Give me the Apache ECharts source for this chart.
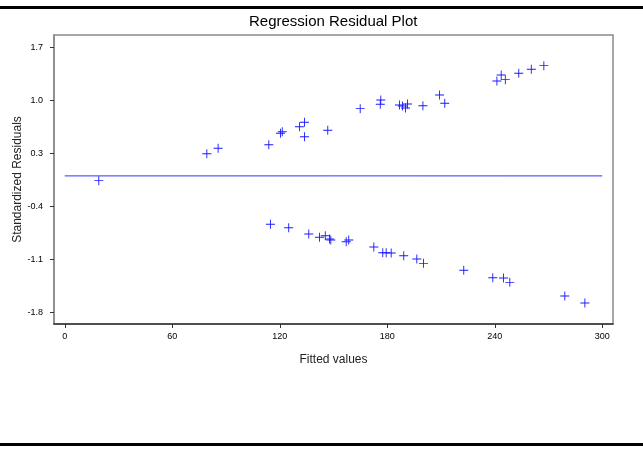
<!DOCTYPE html>
<html>
<head>
<meta charset="utf-8">
<script src="https://cdn.jsdelivr.net/npm/echarts@6/dist/echarts.min.js"></script>
<style>
html,body{margin:0;padding:0;background:#fff;}
#chart{width:643px;height:449px;}
</style>
</head>
<body>
<div id="chart"></div>
<script>
// Data
var fittedValues = [
  19.0,
  79.3, 85.6, 113.9, 120.4, 121.4, 131.0, 133.8, 133.8, 146.8,
  164.9, 176.4, 176.1, 186.8, 188.5, 190.2, 191.3, 199.9, 209.2, 212.1,
  241.2, 243.6, 245.9, 253.4, 260.4, 267.4,
  114.8, 125.0, 136.2, 142.2, 145.4, 147.8, 148.5, 157.1, 158.5,
  172.5, 177.5, 179.4, 182.2, 189.2, 196.5, 200.2, 222.7,
  238.9, 244.9, 248.4, 279.1, 290.3
];
var stdResiduals = [
  -0.063,
  0.293, 0.365, 0.412, 0.563, 0.584, 0.650, 0.708, 0.518, 0.602,
  0.888, 1.003, 0.946, 0.937, 0.923, 0.897, 0.950, 0.927, 1.069, 0.959,
  1.254, 1.333, 1.271, 1.355, 1.408, 1.456,
  -0.639, -0.684, -0.767, -0.811, -0.790, -0.834, -0.847, -0.869, -0.847,
  -0.939, -1.015, -1.015, -1.018, -1.054, -1.098, -1.155, -1.247,
  -1.345, -1.349, -1.406, -1.587, -1.679
];
var xTickValues = [0, 60, 120, 180, 240, 300];
var yTickValues = [-1.8, -1.1, -0.4, 0.3, 1.0, 1.7];
var refLineX = [0, 300];
var refLineY = [0, 0];

var points = fittedValues.map(function (x, i) { return [x, stdResiduals[i]]; });
var refLine = refLineX.map(function (x, i) { return [x, refLineY[i]]; });

var FONT = '"Liberation Sans", Arial, sans-serif';
var plusPath = 'path://M4.5,0h1v4.5h4.5v1h-4.5v4.5h-1v-4.5h-4.5v-1h4.5z';

var chart = echarts.init(document.getElementById('chart'), null, {renderer: 'canvas'});
chart.setOption({
  backgroundColor: '#ffffff',
  animation: false,
  title: {
    text: 'Regression Residual Plot',
    left: 244,
    top: 9,
    textStyle: {fontFamily: FONT, fontSize: 15, fontWeight: 'normal', color: '#000'}
  },
  graphic: [
    {type: 'rect', shape: {x: 0, y: 6, width: 643, height: 3}, style: {fill: '#000'}},
    {type: 'rect', shape: {x: 0, y: 443, width: 643, height: 3}, style: {fill: '#000'}}
  ],
  grid: {
    left: 54, right: 30, top: 35, bottom: 125,
    containLabel: false,
    outerBoundsMode: 'none',
    show: true, borderColor: '#8a8a8a', borderWidth: 1.5, backgroundColor: '#fff'
  },
  xAxis: {
    type: 'value',
    min: -6, max: 306,
    name: 'Fitted values',
    nameLocation: 'middle',
    nameGap: 30,
    nameMoveOverlap: false,
    nameTextStyle: {fontFamily: FONT, fontSize: 12, color: '#222'},
    axisLine: {show: true, onZero: false, lineStyle: {color: '#333', width: 1.5}},
    axisTick: {show: true, length: 4, customValues: xTickValues, lineStyle: {color: '#333'}},
    axisLabel: {customValues: xTickValues, margin: 8, fontFamily: FONT, fontSize: 9, color: '#000'},
    splitLine: {show: false}
  },
  yAxis: {
    type: 'value',
    min: -1.956, max: 1.861,
    name: 'Standardized Residuals',
    nameLocation: 'middle',
    nameGap: 30,
    nameMoveOverlap: false,
    nameTextStyle: {fontFamily: FONT, fontSize: 12, color: '#222'},
    axisLine: {show: true, onZero: false, lineStyle: {color: '#888', width: 1.5}},
    axisTick: {show: true, length: 4, customValues: yTickValues, lineStyle: {color: '#333'}},
    axisLabel: {
      customValues: yTickValues, margin: 11, fontFamily: FONT, fontSize: 9, color: '#000',
      formatter: function (v) { return v.toFixed(1); }
    },
    splitLine: {show: false}
  },
  series: [
    {
      type: 'line',
      data: refLine,
      symbol: 'none',
      lineStyle: {color: '#3333ff', width: 1},
      z: 1,
      silent: true
    },
    {
      type: 'scatter',
      data: points,
      symbol: plusPath,
      symbolSize: 9,
      itemStyle: {color: '#1a1aff', opacity: 1},
      z: 2
    }
  ]
});
</script>
</body>
</html>
